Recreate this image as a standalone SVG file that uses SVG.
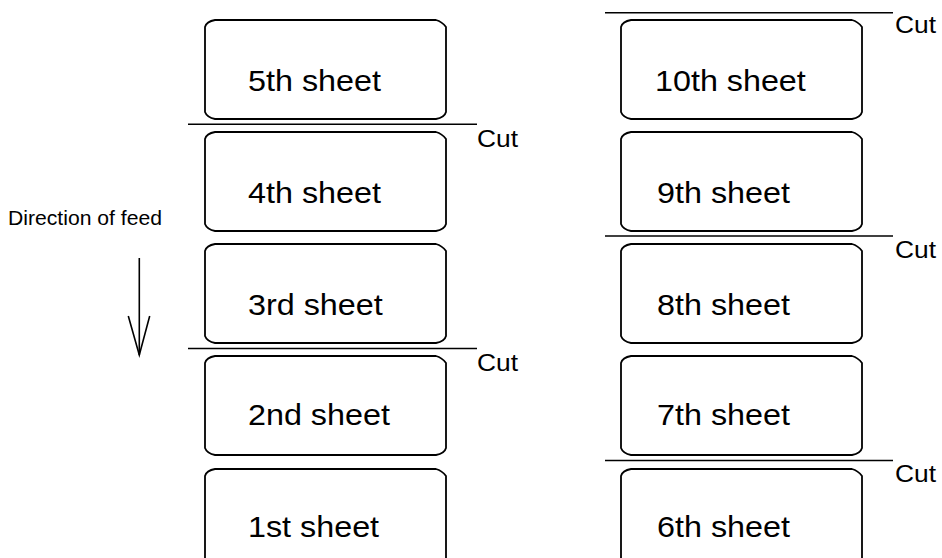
<svg xmlns="http://www.w3.org/2000/svg" xmlns:xlink="http://www.w3.org/1999/xlink" width="942" height="558" viewBox="0 0 942 558">
<style>
.box{fill:#fff;stroke:#000;stroke-width:1.8;stroke-linejoin:round}
.lbl{font-family:"Liberation Sans",Arial,sans-serif;font-size:30px;fill:#000}
.cut{font-family:"Liberation Sans",Arial,sans-serif;font-size:24px;fill:#000}
.cl{stroke:#000;stroke-width:1.6;fill:none}
.dir{font-family:"Liberation Sans",Arial,sans-serif;font-size:20px;fill:#000}
</style>
<defs>
<path id="sheet" d="M10,0 L231,0 Q237,1.5 241,7 L241,92 Q239.5,97.5 231,99 L10,99 Q2,97.5 0,92 L0,7 Q1.5,1.5 10,0 Z"/>
</defs>
<rect width="942" height="558" fill="#fff"/>

<g id="sheet5"><use xlink:href="#sheet" class="box" x="205" y="20"/><text class="lbl" x="248" y="91" textLength="133" lengthAdjust="spacingAndGlyphs">5th sheet</text></g>
<g id="sheet4"><use xlink:href="#sheet" class="box" x="205" y="132"/><text class="lbl" x="248" y="203" textLength="133" lengthAdjust="spacingAndGlyphs">4th sheet</text></g>
<g id="sheet3"><use xlink:href="#sheet" class="box" x="205" y="244"/><text class="lbl" x="248" y="315" textLength="134.7" lengthAdjust="spacingAndGlyphs">3rd sheet</text></g>
<g id="sheet2"><use xlink:href="#sheet" class="box" x="205" y="356"/><text class="lbl" x="248" y="425" textLength="141.9" lengthAdjust="spacingAndGlyphs">2nd sheet</text></g>
<g id="sheet1"><use xlink:href="#sheet" class="box" x="205" y="469"/><text class="lbl" x="248" y="537" textLength="131.1" lengthAdjust="spacingAndGlyphs">1st sheet</text></g>

<g id="sheet10"><use xlink:href="#sheet" class="box" x="621" y="20"/><text class="lbl" x="655" y="91" textLength="150.8" lengthAdjust="spacingAndGlyphs">10th sheet</text></g>
<g id="sheet9"><use xlink:href="#sheet" class="box" x="621" y="132"/><text class="lbl" x="657" y="203" textLength="133" lengthAdjust="spacingAndGlyphs">9th sheet</text></g>
<g id="sheet8"><use xlink:href="#sheet" class="box" x="621" y="244"/><text class="lbl" x="657" y="315" textLength="133" lengthAdjust="spacingAndGlyphs">8th sheet</text></g>
<g id="sheet7"><use xlink:href="#sheet" class="box" x="621" y="356"/><text class="lbl" x="657" y="425" textLength="133" lengthAdjust="spacingAndGlyphs">7th sheet</text></g>
<g id="sheet6"><use xlink:href="#sheet" class="box" x="621" y="469"/><text class="lbl" x="657" y="537" textLength="133" lengthAdjust="spacingAndGlyphs">6th sheet</text></g>

<g id="cuts">
<line class="cl" x1="188" y1="124.3" x2="477" y2="124.3"/>
<text class="cut" x="477" y="146.5" textLength="41" lengthAdjust="spacingAndGlyphs">Cut</text>
<line class="cl" x1="188" y1="348.5" x2="477" y2="348.5"/>
<text class="cut" x="477" y="370.5" textLength="41" lengthAdjust="spacingAndGlyphs">Cut</text>
<line class="cl" x1="605" y1="12.7" x2="893" y2="12.7"/>
<text class="cut" x="895" y="33.3" textLength="41" lengthAdjust="spacingAndGlyphs">Cut</text>
<line class="cl" x1="605" y1="236" x2="893" y2="236"/>
<text class="cut" x="895" y="257.5" textLength="41" lengthAdjust="spacingAndGlyphs">Cut</text>
<line class="cl" x1="605" y1="460.5" x2="893" y2="460.5"/>
<text class="cut" x="895" y="482" textLength="41" lengthAdjust="spacingAndGlyphs">Cut</text>
</g>

<g id="feed">
<text class="dir" x="8" y="225" textLength="154" lengthAdjust="spacingAndGlyphs">Direction of feed</text>
<line class="cl" x1="139.3" y1="258" x2="139.3" y2="355"/>
<polyline class="cl" points="128.3,316 139.3,355 149.7,316"/>
</g>
</svg>
